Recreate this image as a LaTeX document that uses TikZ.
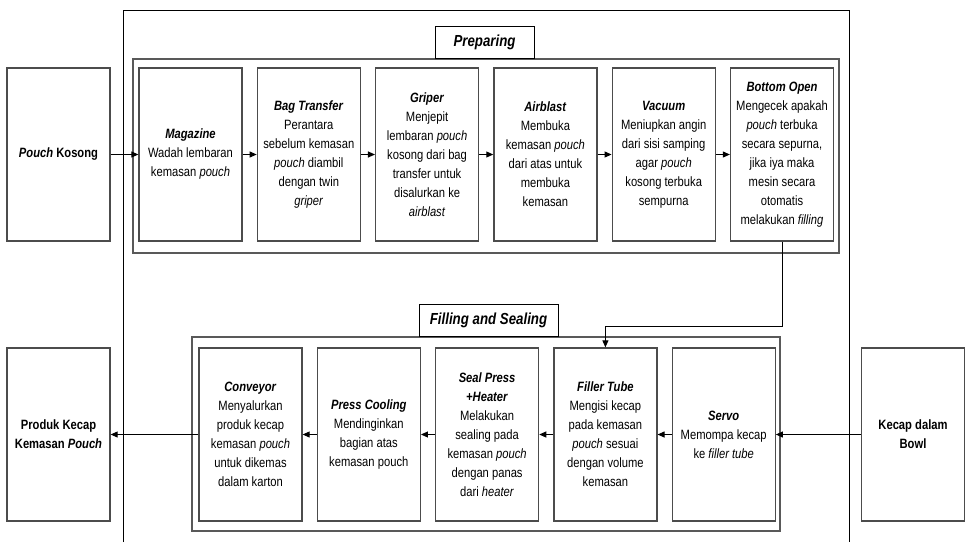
\documentclass[tikz,border=0pt]{standalone}
\usepackage{fontspec}
\setmainfont{Liberation Sans}[FakeStretch=0.83]
\usetikzlibrary{positioning,arrows.meta}

\begin{document}
\begin{tikzpicture}[x=1pt, y=-1pt,
stage/.style={rectangle, draw=black!70, line width=1.3pt, fill=white, minimum width=103pt, minimum height=173pt, align=center, inner sep=2pt, font=\fontsize{13.5}{19}\selectfont},
group/.style={draw=black!65, line width=1.3pt},
frame/.style={draw=black, line width=0.9pt},
title/.style={draw=black, line width=1pt, fill=white, minimum height=32pt, inner sep=2pt, font=\fontsize{16}{19}\selectfont\bfseries\itshape},
flow/.style={-{Triangle[length=7pt,width=6pt]}, line width=1pt}
]
\useasboundingbox (0,0) rectangle (969,542);
%Frames
\draw[frame] (123,542) -- (123,10) -- (849,10) -- (849,542);
\draw[group] (133,59) rectangle (839,253);
\draw[group] (192,337) rectangle (780,531);
\node[title, minimum width=99pt, anchor=south]  (preplabel) at (484.5,59)  {Preparing};
\node[title, minimum width=139pt, anchor=south] (filllabel) at (488.5,337) {Filling and Sealing};
%Nodes
\node[stage]      (pouch)    at (58.5,154.5)             {\textbf{\textit{Pouch} Kosong}};
\node[stage]      (magazine) at (190.5,154.5)            {\textbf{\textit{Magazine}}\\Wadah lembaran\\kemasan \textit{pouch}};
\node[stage]      (bagtr)    [right=14pt of magazine]    {\textbf{\textit{Bag Transfer}}\\Perantara\\sebelum kemasan\\\textit{pouch} diambil\\dengan twin\\\textit{griper}};
\node[stage]      (griper)   [right=14pt of bagtr]       {\textbf{\textit{Griper}}\\Menjepit\\lembaran \textit{pouch}\\kosong dari bag\\transfer untuk\\disalurkan ke\\\textit{airblast}};
\node[stage]      (airblast) [right=14pt of griper]      {\textbf{\textit{Airblast}}\\Membuka\\kemasan \textit{pouch}\\dari atas untuk\\membuka\\kemasan};
\node[stage]      (vacuum)   [right=14pt of airblast]    {\textbf{\textit{Vacuum}}\\Meniupkan angin\\dari sisi samping\\agar \textit{pouch}\\kosong terbuka\\sempurna};
\node[stage]      (bottom)   [right=14pt of vacuum]      {\textbf{\textit{Bottom Open}}\\Mengecek apakah\\\textit{pouch} terbuka\\secara sepurna,\\jika iya maka\\mesin secara\\otomatis\\melakukan \textit{filling}};
\node[stage]      (produk)   at (58.5,434.5)             {\textbf{Produk Kecap}\\\textbf{Kemasan \textit{Pouch}}};
\node[stage]      (conveyor) at (250.5,434.5)            {\textbf{\textit{Conveyor}}\\Menyalurkan\\produk kecap\\kemasan \textit{pouch}\\untuk dikemas\\dalam karton};
\node[stage]      (cooling)  [right=14pt of conveyor]    {\textbf{\textit{Press Cooling}}\\Mendinginkan\\bagian atas\\kemasan pouch};
\node[stage]      (seal)     [right=14pt of cooling]     {\textbf{\textit{Seal Press}}\\\textbf{\textit{+Heater}}\\Melakukan\\sealing pada\\kemasan \textit{pouch}\\dengan panas\\dari \textit{heater}};
\node[stage]      (filler)   [right=14pt of seal]        {\textbf{\textit{Filler Tube}}\\Mengisi kecap\\pada kemasan\\\textit{pouch} sesuai\\dengan volume\\kemasan};
\node[stage]      (servo)    [right=14pt of filler]      {\textbf{\textit{Servo}}\\Memompa kecap\\ke \textit{filler tube}};
\node[stage]      (bowl)     at (913,434.5)              {\textbf{Kecap dalam}\\\textbf{Bowl}};
%Lines
\draw[flow] (pouch) -- (magazine);
\draw[flow] (magazine) -- (bagtr);
\draw[flow] (bagtr) -- (griper);
\draw[flow] (griper) -- (airblast);
\draw[flow] (airblast) -- (vacuum);
\draw[flow] (vacuum) -- (bottom);
\draw[flow] (bottom.south) -- ++(0,85) -| (filler.north);
\draw[flow] (bowl) -- (servo);
\draw[flow] (servo) -- (filler);
\draw[flow] (filler) -- (seal);
\draw[flow] (seal) -- (cooling);
\draw[flow] (cooling) -- (conveyor);
\draw[flow] (conveyor) -- (produk);
\end{tikzpicture}
\end{document}
